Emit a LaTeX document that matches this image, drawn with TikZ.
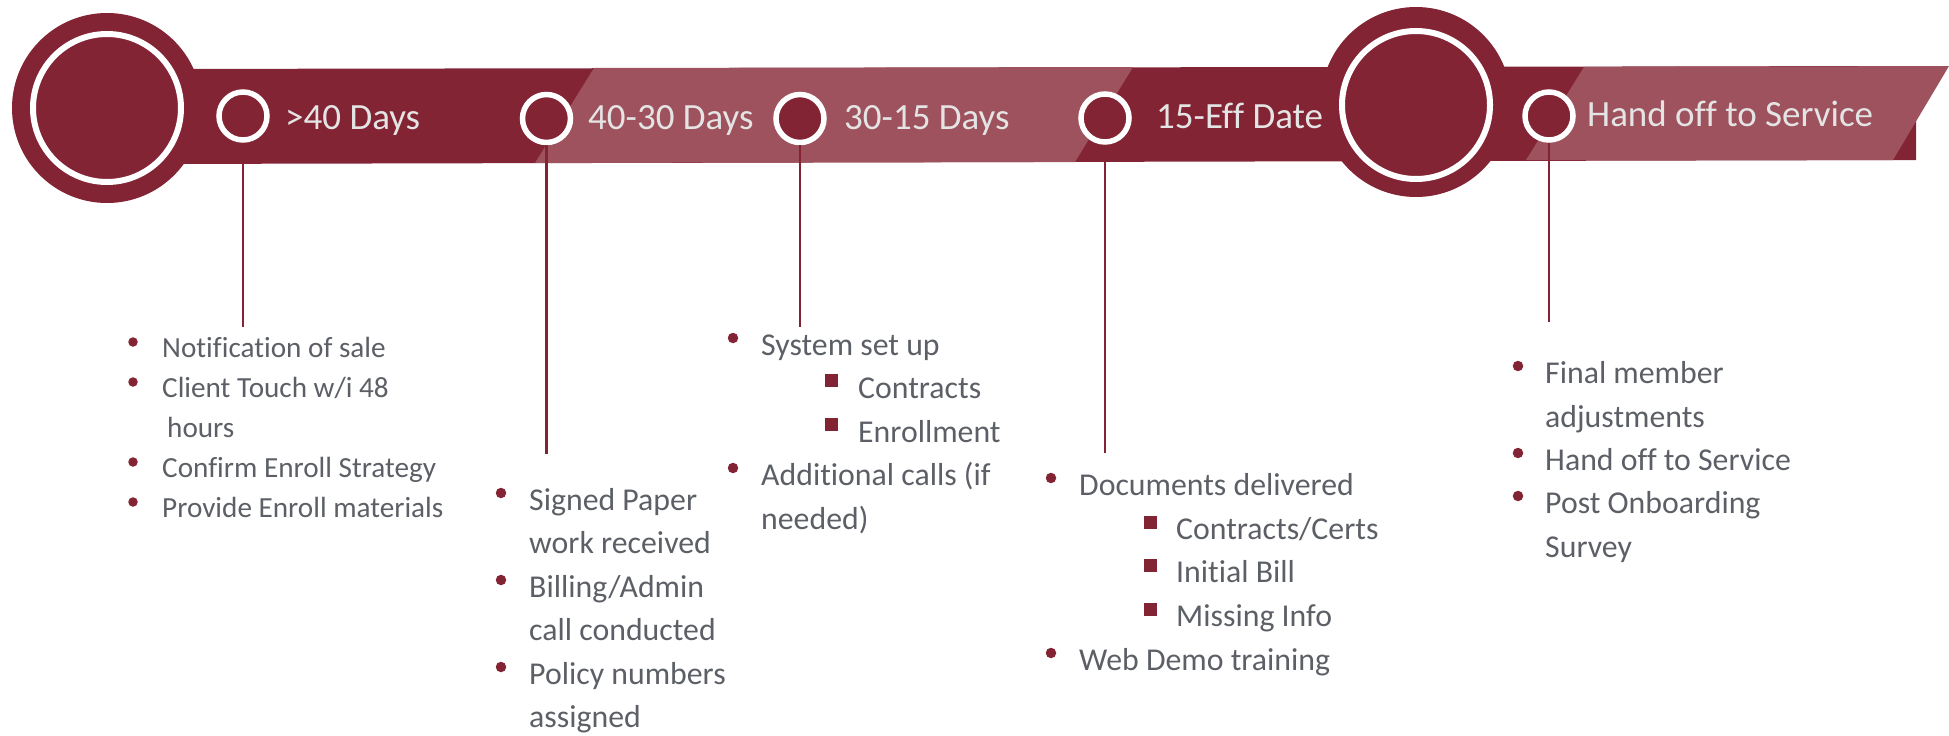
\documentclass[tikz,border=0pt]{standalone}
\usepackage{fontspec}
\setmainfont{Carlito}[Ligatures=NoCommon]
\usetikzlibrary{positioning}
\definecolor{wine}{RGB}{131,36,53}
\definecolor{rose}{RGB}{157,82,93}
\definecolor{slate}{RGB}{92,96,102}
\definecolor{paper}{RGB}{228,228,228}

\begin{document}
\begin{tikzpicture}[x=1pt, y=-1pt]
    \tikzset{
        hub/.style = {circle, fill=wine, minimum size=190pt, inner sep=0pt},
        hubring/.style = {circle, draw=white, line width=6pt, minimum size=148pt, inner sep=0pt},
        milestone/.style = {circle, draw=white, fill=wine, line width=5.5pt, minimum size=48pt, inner sep=0pt},
        phase/.style = {anchor=base west, inner sep=0pt, text=paper, font=\fontsize{37}{44}\selectfont},
        item/.style = {anchor=base west, inner sep=0pt, text=slate, font=\fontsize{31.8}{38}\selectfont},
        smallitem/.style = {item, font=\fontsize{29.2}{35}\selectfont},
        dot/.style = {circle, fill=wine, minimum size=10.5pt, inner sep=0pt},
        sqbullet/.style = {rectangle, fill=wine, minimum size=13pt, inner sep=0pt},
        leader/.style = {draw=wine, line width=2.5pt}
    }
    \useasboundingbox (0,0) rectangle (1949,736);

    % ribbon
    \fill[wine] (150,69) -- (1916,66) -- (1916,160) -- (150,164) -- cycle;
    \fill[rose] (594,68) -- (1133,67) -- (1075,162) -- (535,163) -- cycle;
    \fill[rose] (1584,67) -- (1949,66) -- (1893,160) -- (1526,160) -- cycle;

    \node[hub] (hubA) at (107,108) {};
    \node[hubring] (ringA) at (107,108) {};
    \node[hub] (hubB) at (1416,102) {};
    \node[hubring] (ringB) at (1416,105) {};

    % milestones
    \node[milestone] (m1) at (243,116) {};
    \node[milestone] (m2) at (546.5,118.5) {};
    \node[milestone] (m3) at (800,118.5) {};
    \node[milestone] (m4) at (1105,118) {};
    \node[milestone] (m5) at (1549,116) {};
    \node[phase] (p1) at (285,129) {>40 Days};
    \node[phase] (p2) at (588,129) {40-30 Days};
    \node[phase] (p3) at (844,129) {30-15 Days};
    \node[phase] (p4) at (1156,128) {15-Eff Date};
    \node[phase] (p5) at (1587,126) {Hand off to Service};

    \coordinate (e1) at (243,327);
    \coordinate (e2) at (546.5,454);
    \coordinate (e3) at (800,327);
    \coordinate (e4) at (1105,453);
    \coordinate (e5) at (1549,322);
    \draw[leader] (m1) -- (e1);
    \draw[leader] (m2) -- (e2);
    \draw[leader] (m3) -- (e3);
    \draw[leader] (m4) -- (e4);
    \draw[leader] (m5) -- (e5);

    % >40 days
    \node[dot, minimum size=9.5pt] (d11) at (133,342) {};
    \node[smallitem] (t11) at (162,357) {Notification of sale};
    \node[dot, minimum size=9.5pt] (d12) at (133,382) {};
    \node[smallitem] (t12) at (162,397) {Client Touch w/i 48};
    \node[smallitem] (t12b) at (167,437) {hours};
    \node[dot, minimum size=9.5pt] (d13) at (133,462) {};
    \node[smallitem] (t13) at (162,477) {Confirm Enroll Strategy};
    \node[dot, minimum size=9.5pt] (d14) at (133,502) {};
    \node[smallitem] (t14) at (162,517) {Provide Enroll materials};

    % 40-30 days
    \node[dot] (d21) at (501,493) {};
    \node[item] (t21) at (529,510) {Signed Paper};
    \node[item] (t21b) at (529,553.5) {work received};
    \node[dot] (d22) at (501,580) {};
    \node[item] (t22) at (529,597) {Billing/Admin};
    \node[item] (t22b) at (529,640.5) {call conducted};
    \node[dot] (d23) at (501,667) {};
    \node[item] (t23) at (529,684) {Policy numbers};
    \node[item] (t23b) at (529,727.5) {assigned};

    % 30-15 days
    \node[dot] (d31) at (733,338) {};
    \node[item] (t31) at (761,355) {System set up};
    \node[sqbullet] (s31) at (831.5,380.5) {};
    \node[item] (t32) at (858,398) {Contracts};
    \node[sqbullet] (s32) at (831.5,424.5) {};
    \node[item] (t33) at (858,442) {Enrollment};
    \node[dot] (d32) at (733,468) {};
    \node[item] (t34) at (761,485) {Additional calls (if};
    \node[item] (t34b) at (761,529) {needed)};

    % 15-eff date
    \node[dot] (d41) at (1051,478) {};
    \node[item] (t41) at (1079,495) {Documents delivered};
    \node[sqbullet] (s41) at (1150,522) {};
    \node[item] (t42) at (1176,539) {Contracts/Certs};
    \node[sqbullet] (s42) at (1150,565.5) {};
    \node[item] (t43) at (1176,582.5) {Initial Bill};
    \node[sqbullet] (s43) at (1150,609) {};
    \node[item] (t44) at (1176,626) {Missing Info};
    \node[dot] (d42) at (1051,653) {};
    \node[item] (t45) at (1079,670) {Web Demo training};

    % hand off
    \node[dot] (d51) at (1518,366) {};
    \node[item] (t51) at (1545,383) {Final member};
    \node[item] (t51b) at (1545,427) {adjustments};
    \node[dot] (d52) at (1518,453) {};
    \node[item] (t52) at (1545,470) {Hand off to Service};
    \node[dot] (d53) at (1518,496) {};
    \node[item] (t53) at (1545,513) {Post Onboarding};
    \node[item] (t53b) at (1545,557) {Survey};
\end{tikzpicture}
\end{document}
